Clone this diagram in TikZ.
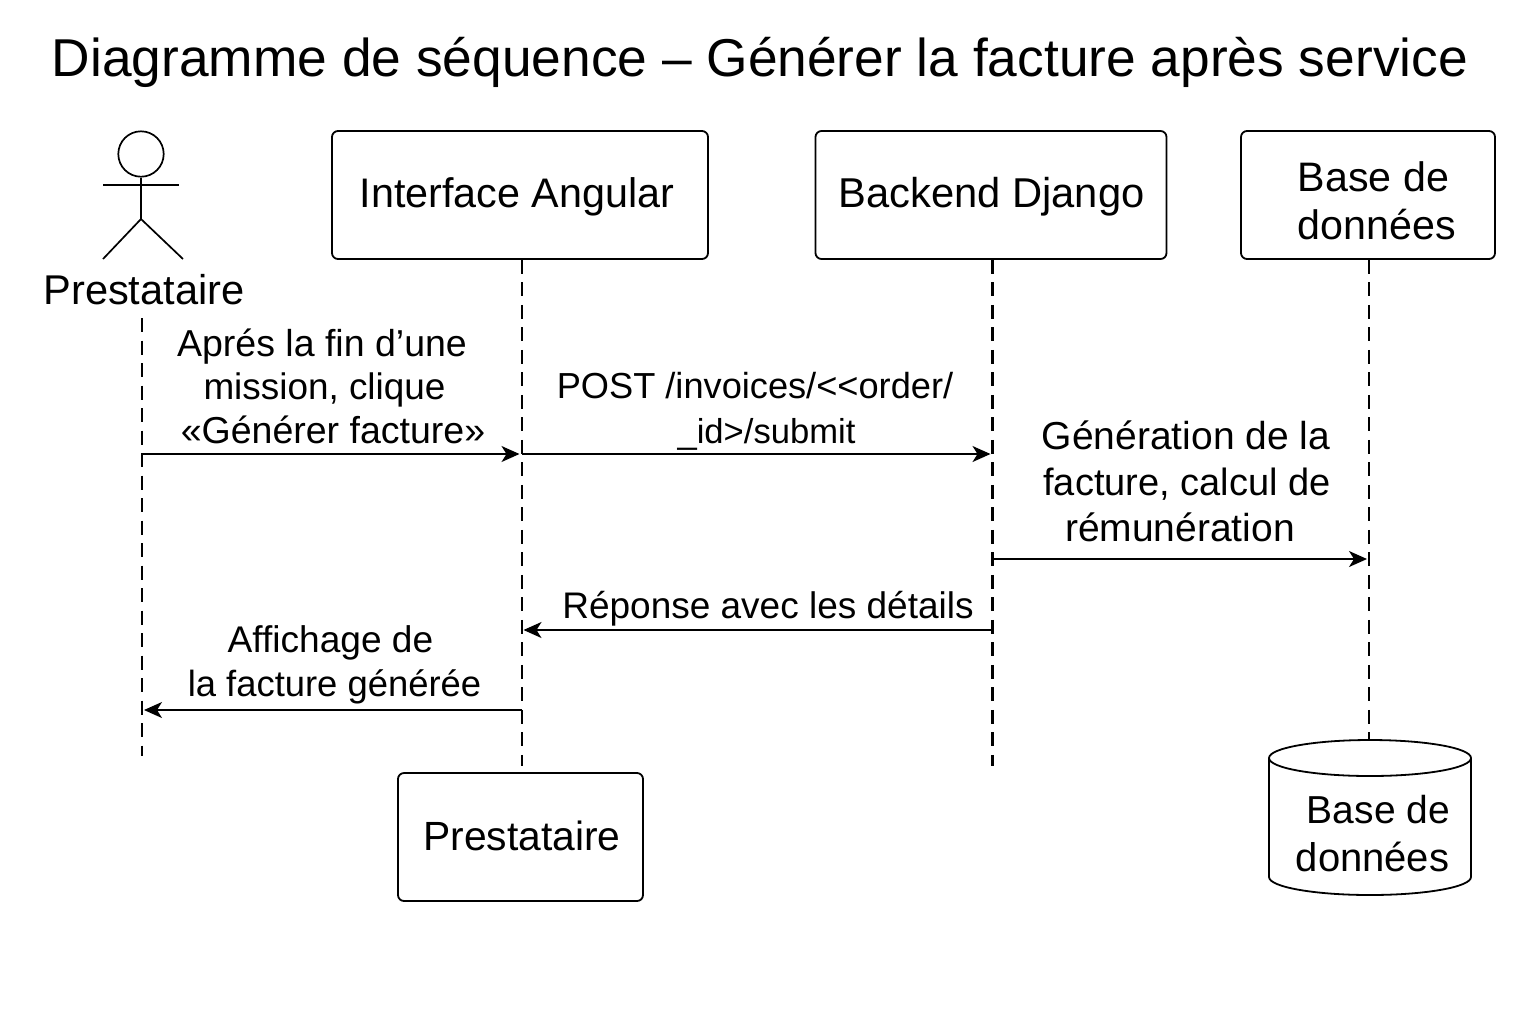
\documentclass[tikz,border=0pt]{standalone}
\usepackage{fontspec}
\setmainfont{Liberation Sans}
\usetikzlibrary{arrows.meta,shapes.geometric}
\begin{document}
\begin{tikzpicture}[x=0.5pt,y=-0.5pt,
  box/.style={draw=black,line width=0.9pt,rounded corners=3pt,inner sep=0pt},
  boxtext/.style={inner sep=0pt,align=center,font=\fontsize{20.65}{24}\selectfont},
  lbl/.style={inner sep=0pt,align=center,font=\fontsize{18.75}{21.8}\selectfont},
  life/.style={draw=black,line width=1pt,dash pattern=on 7pt off 4.25pt},
  msg/.style={draw=black,line width=0.75pt,shorten >=1pt,-{Stealth[length=9pt,width=8pt,inset=2.5pt]}},
  actor/.style={draw=black,line width=0.85pt}]
\useasboundingbox (0,0) rectangle (1536,1024);
\fill[white] (0,0) rectangle (1536,1024);
\node[inner sep=0pt,font=\fontsize{26.65}{30}\selectfont] (title) at (760,62) {Diagramme de séquence – Générer la facture après service};
% boxes
\node[box,minimum width=188pt,minimum height=64pt] (ang) at (520,195) {};
\node[boxtext] (angt) at (517,197) {Interface Angular};
\node[box,minimum width=175.5pt,minimum height=64pt] (dj) at (991,195) {};
\node[boxtext,font=\fontsize{20.85}{24}\selectfont] (djt) at (991.5,197) {Backend Django};
\node[box,minimum width=127pt,minimum height=64pt] (db) at (1368,195) {};
\node[lbl,font=\fontsize{20.6}{24}\selectfont] (dbt) at (1377,201) {Base de\hspace*{3.5pt}\\donn\'ees};
\node[box,minimum width=122.5pt,minimum height=64pt] (pbox) at (520.5,837) {};
\node[boxtext,font=\fontsize{20.4}{24}\selectfont] (pboxt) at (522,835.5) {Prestataire};
% actor
\node[draw=black,line width=0.85pt,circle,minimum size=22.7pt,inner sep=0pt] (head) at (141,154) {};
\coordinate (hip) at (141,219);
\coordinate (armL) at (103,185);
\coordinate (armR) at (179,185);
\coordinate (legL) at (103,259);
\coordinate (legR) at (183,259);
\draw[actor] (head.south) -- (hip);
\draw[actor] (armL) -- (armR);
\draw[actor] (legL) -- (hip) -- (legR);
\node[inner sep=0pt,font=\fontsize{20.8}{24}\selectfont] (pname) at (144,290) {Prestataire};
% cylinder
\draw[line width=0.9pt,line join=round] (1269,758) arc[start angle=180,end angle=360,x radius=101,y radius=18]
  arc[start angle=0,end angle=180,x radius=101,y radius=18] -- (1269,877)
  arc[start angle=180,end angle=0,x radius=101,y radius=18] -- (1471,758);
\node[lbl,font=\fontsize{20}{24}\selectfont] (cylt) at (1372.5,834) {\hspace*{6pt}{\fontsize{19.5}{24}\selectfont Base de}\\donn\'ees};
% lifelines
\coordinate (p0) at (142,318); \coordinate (p1) at (142,756);
\coordinate (a1) at (521.5,766);
\path (ang.south) ++(1.5,0) coordinate (a0);
\path (dj.south) ++(1.5,0) coordinate (d0);
\coordinate (d1) at (992.5,766);
\path (db.south) ++(1,0) coordinate (b0);
\coordinate (b1) at (1369,740);
\draw[life,line width=0.85pt] (p0) -- (p1);
\draw[life] (a0) -- (a1);
\draw[life,line width=1.3pt] (d0) -- (d1);
\draw[life] (b0) -- (b1);
% anchors on lifelines
\coordinate (m1a) at (142,454); \coordinate (m1b) at (521.5,454);
\coordinate (m2b) at (992.5,454);
\coordinate (m3a) at (992.5,559); \coordinate (m3b) at (1369,559);
\coordinate (m4a) at (992.5,630); \coordinate (m4b) at (521.5,630);
\coordinate (m5a) at (521.5,710); \coordinate (m5b) at (142,710);
\draw[msg] (m1a) -- (m1b);
\draw[msg] (m1b) -- (m2b);
\draw[msg] (m3a) -- (m3b);
\draw[msg] (m4a) -- (m4b);
\draw[msg] (m5a) -- (m5b);
% labels
\node[lbl] (l1) at (322,386) {Aprés la fin d’une\\\hspace*{2.5pt}{\fontsize{18.45}{21.8}\selectfont mission, clique}\\\hspace*{11pt}«Générer facture»};
\node[lbl,font=\fontsize{18.1}{22.5}\selectfont] (l2) at (755,411) {POST /invoices/{<}{<}order/\\\hspace*{11.5pt}{\fontsize{17.3}{22.5}\selectfont\_id>/submit}};
\node[lbl,font=\fontsize{19.5}{23}\selectfont] (l3) at (1186,481) {Génération de la\\\hspace*{1pt}{\fontsize{19}{23}\selectfont facture, calcul de}\\rémunération\hspace*{6pt}};
\node[lbl,font=\fontsize{18.5}{22}\selectfont] (l4) at (768,609) {Réponse avec les détails};
\node[lbl,font=\fontsize{18.2}{22}\selectfont] (l5) at (334.5,665) {{\fontsize{18.55}{22}\selectfont Affichage de}\hspace*{4pt}\\la facture générée};
\end{tikzpicture}
\end{document}
